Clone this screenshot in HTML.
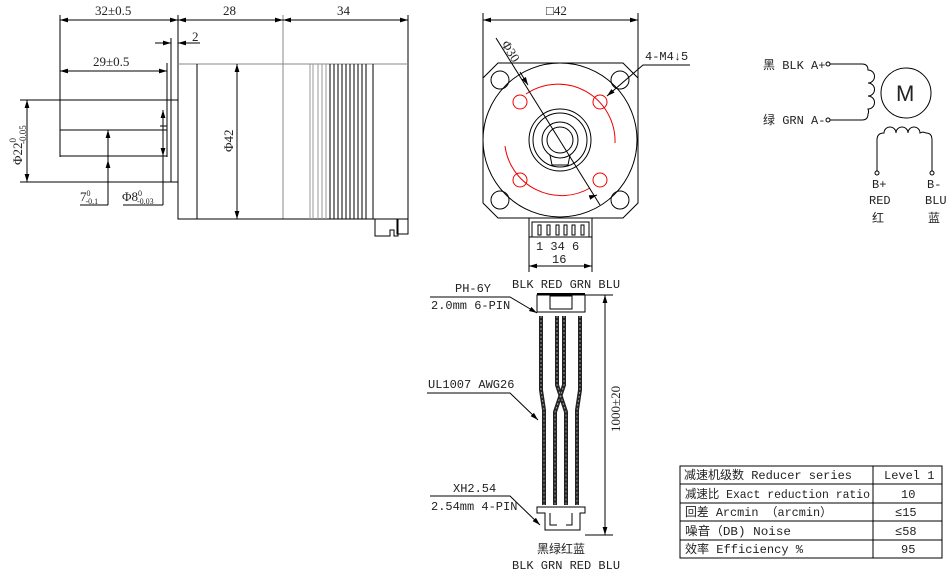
<!DOCTYPE html>
<html><head><meta charset="utf-8"><style>
html,body{margin:0;padding:0;background:#fff}
svg{display:block}
text{font-family:"Liberation Mono","Noto Sans CJK SC",monospace;font-size:12px;fill:#222}
.s{font-family:"Liberation Serif","Noto Serif CJK SC",serif;font-size:13px}
</style></head><body>
<svg width="950" height="577" viewBox="0 0 950 577" xmlns="http://www.w3.org/2000/svg">
<defs>
<marker id="a" viewBox="0 0 10 6" refX="10" refY="3" markerWidth="8" markerHeight="5" orient="auto-start-reverse"><path d="M0,0L10,3L0,6z" fill="#000"/></marker>
</defs>
<g stroke="#000" stroke-width="1" fill="none">
<line x1="60" y1="15" x2="60" y2="157"/>
<line x1="178" y1="15" x2="178" y2="64"/>
<line x1="283" y1="15" x2="283" y2="219" stroke="#888"/>
<line x1="408" y1="15" x2="408" y2="64"/>
<line x1="60" y1="20" x2="178" y2="20" marker-start="url(#a)" marker-end="url(#a)"/>
<line x1="178" y1="20" x2="283" y2="20" marker-start="url(#a)" marker-end="url(#a)"/>
<line x1="283" y1="20" x2="408" y2="20" marker-start="url(#a)" marker-end="url(#a)"/>
<line x1="155" y1="43" x2="171" y2="43" marker-end="url(#a)"/>
<line x1="200" y1="43" x2="178" y2="43" marker-end="url(#a)"/>
<line x1="60" y1="71" x2="167" y2="71" marker-start="url(#a)" marker-end="url(#a)"/>
<line x1="167" y1="63" x2="167" y2="157"/>
<line x1="171" y1="38" x2="171" y2="182"/>
<rect x="178" y="64" width="230" height="155"/>
<line x1="178" y1="64" x2="408" y2="64" stroke="#888"/>
<line x1="197" y1="64" x2="197" y2="219"/>
<g stroke="#999"><line x1="310" y1="64" x2="310" y2="219"/><line x1="313" y1="64" x2="313" y2="219"/><line x1="318" y1="64" x2="318" y2="219"/><line x1="322" y1="64" x2="322" y2="219"/><line x1="326" y1="64" x2="326" y2="219"/></g>
<g><line x1="330" y1="64" x2="330" y2="219"/><line x1="334" y1="64" x2="334" y2="219"/><line x1="338" y1="64" x2="338" y2="219"/><line x1="342" y1="64" x2="342" y2="219"/><line x1="346" y1="64" x2="346" y2="219"/><line x1="350" y1="64" x2="350" y2="219"/><line x1="354" y1="64" x2="354" y2="219"/><line x1="358" y1="64" x2="358" y2="219"/><line x1="362" y1="64" x2="362" y2="219"/><line x1="366" y1="64" x2="366" y2="219"/><line x1="373" y1="64" x2="373" y2="219"/></g>
<line x1="20" y1="100" x2="178" y2="100"/>
<line x1="20" y1="182" x2="178" y2="182"/>
<line x1="27" y1="100" x2="27" y2="182" marker-start="url(#a)" marker-end="url(#a)"/>
<line x1="60" y1="130" x2="167" y2="130"/>
<line x1="60" y1="156" x2="167" y2="156"/>
<line x1="160" y1="126" x2="167" y2="126"/>
<line x1="108" y1="130" x2="108" y2="205" marker-start="url(#a)"/>
<line x1="108" y1="182" x2="108" y2="160" marker-end="url(#a)"/>
<line x1="80" y1="205" x2="108" y2="205"/>
<line x1="163" y1="110" x2="163" y2="205" />
<line x1="163" y1="110" x2="163" y2="126" marker-start="url(#a)"/>
<line x1="163" y1="140" x2="163" y2="156" marker-end="url(#a)"/>
<line x1="123" y1="205" x2="163" y2="205"/>
<line x1="237" y1="64" x2="237" y2="219" marker-start="url(#a)" marker-end="url(#a)"/>
<path d="M375 219V236H390V230H394V236H398V219M397 219V234H408V219"/>
<line x1="483" y1="13" x2="483" y2="80"/>
<line x1="638" y1="13" x2="638" y2="80"/>
<line x1="483" y1="20" x2="638" y2="20" marker-start="url(#a)" marker-end="url(#a)"/>
<path d="M498 63H623L638 78V203L623 218H498L483 203V78Z"/>
<circle cx="560" cy="140" r="77"/>
<circle cx="500" cy="80" r="9"/><circle cx="620" cy="80" r="9"/><circle cx="500" cy="200" r="9"/><circle cx="620" cy="200" r="9"/>
<circle cx="560" cy="140" r="31"/><circle cx="560" cy="140" r="27"/><circle cx="560" cy="140" r="18"/><circle cx="560" cy="140" r="13"/>
<path d="M550 155 L552 165 H568 L570 155"/>
<g stroke="#e00"><circle cx="520" cy="102" r="7"/><circle cx="600" cy="102" r="7"/><circle cx="520" cy="180" r="7"/><circle cx="600" cy="180" r="7"/>
<path d="M526 94 A57 57 0 0 1 615 143"/><path d="M505 146 A57 57 0 0 0 590 188"/></g>
<line x1="496" y1="38" x2="600" y2="205"/>
<line x1="520" y1="72" x2="528" y2="85" marker-end="url(#a)"/>
<line x1="594" y1="196" x2="597" y2="195" marker-end="url(#a)"/>
<polyline points="690,65 643,65 607,96" marker-end="url(#a)"/>
<rect x="529" y="218" width="63" height="19"/>
<rect x="532" y="222" width="57" height="15"/>
<g><rect x="538" y="225" width="3" height="10"/><rect x="547" y="225" width="3" height="10"/><rect x="556" y="225" width="3" height="10"/><rect x="564" y="225" width="3" height="10"/><rect x="572" y="225" width="3" height="10"/><rect x="581" y="225" width="3" height="10"/></g>
<line x1="529" y1="237" x2="529" y2="272"/><line x1="592" y1="237" x2="592" y2="272"/>
<line x1="529" y1="266" x2="592" y2="266" marker-start="url(#a)" marker-end="url(#a)"/>
<line x1="537" y1="294" x2="585" y2="294" stroke-width="2"/>
<path d="M537 295H585V312H537Z"/><rect x="550" y="296" width="22" height="13"/>
<polyline points="430,297 510,297 537,313" marker-end="url(#a)"/>
<line x1="585" y1="295" x2="613" y2="295"/>
<line x1="585" y1="535" x2="613" y2="535"/>
<line x1="605" y1="295" x2="605" y2="535" marker-start="url(#a)" marker-end="url(#a)"/>
<g stroke="#222" stroke-width="4">
<path d="M541 316V390L544 410V505"/>
<path d="M557 316V385L566 412V505"/>
<path d="M564 316V385L555 412V505"/>
<path d="M580 316V390L577 410V505"/>
</g>
<g stroke="#999" stroke-width="1" stroke-dasharray="2 2">
<path d="M541 316V390L544 410V505"/><path d="M557 316V385L566 412V505"/><path d="M564 316V385L555 412V505"/><path d="M580 316V390L577 410V505"/>
</g>
<polyline points="427,393 510,393 538,420" marker-end="url(#a)"/>
<path d="M537 507H585V513H580V530H545V513H537Z" fill="#fff"/>
<path d="M550 513V525H557M566 525H572V513"/>
<polyline points="430,496 510,496 540,525" marker-end="url(#a)"/>
<circle cx="828" cy="64" r="2"/><circle cx="828" cy="120" r="2"/>
<path d="M830 64H862Q868 64 868 70 A6 6 0 0 1 868 83 A6 6 0 0 1 868 96 A6 6 0 0 1 868 109 A6 6 0 0 1 868 114 Q868 120 862 120H830"/>
<circle cx="906" cy="93" r="25"/>
<path d="M877 171V140Q877 133 884 133 A6 6 0 0 1 896 133 A6 6 0 0 1 908 133 A6 6 0 0 1 920 133 A6 6 0 0 1 926 133 Q932 133 932 140V171"/>
<circle cx="877" cy="173" r="2"/><circle cx="932" cy="173" r="2"/>
<rect x="680" y="466" width="262" height="92"/>
<line x1="873" y1="466" x2="873" y2="558"/>
<line x1="680" y1="484" x2="942" y2="484"/><line x1="680" y1="503" x2="942" y2="503"/><line x1="680" y1="521" x2="942" y2="521"/><line x1="680" y1="540" x2="942" y2="540"/>
</g>
<text class="s" x="95" y="15">32±0.5</text>
<text class="s" x="223" y="15">28</text>
<text class="s" x="337" y="15">34</text>
<text class="s" x="192" y="41">2</text>
<text class="s" x="93" y="66">29±0.5</text>
<text class="s" transform="translate(22,165) rotate(-90)">Φ22<tspan font-size="9" dy="-6">0</tspan><tspan font-size="9" dx="-6" dy="10">-0.05</tspan></text>
<text class="s" x="80" y="201">7<tspan font-size="8" dy="-5">0</tspan><tspan font-size="8" dx="-5" dy="8">-0.1</tspan></text>
<text class="s" x="122" y="201">Φ8<tspan font-size="8" dy="-5">0</tspan><tspan font-size="8" dx="-5" dy="8">-0.03</tspan></text>
<text class="s" transform="translate(233,152) rotate(-90)">Φ42</text>
<text class="s" x="546" y="15">□42</text>
<text class="s" transform="translate(501,44) rotate(58)">Φ30</text>
<text x="645" y="60">4-M4↓5</text>
<text x="536" y="250">1 34 6</text>
<text x="552" y="263">16</text>
<text x="512" y="288">BLK RED GRN BLU</text>
<text x="455" y="292">PH-6Y</text>
<text x="431" y="309">2.0mm 6-PIN</text>
<text x="428" y="388">UL1007 AWG26</text>
<text x="453" y="492">XH2.54</text>
<text x="431" y="510">2.54mm 4-PIN</text>
<text class="s" transform="translate(620,432) rotate(-90)">1000±20</text>
<text x="537" y="553">黑绿红蓝</text>
<text x="512" y="569">BLK GRN RED BLU</text>
<text x="763" y="69">黑 BLK A+</text>
<text x="763" y="124">绿 GRN A-</text>
<text x="896" y="101" style="font-family:'Liberation Sans',sans-serif;font-size:22px">M</text>
<text x="872" y="188">B+</text><text x="927" y="188">B-</text>
<text x="869" y="204">RED</text><text x="925" y="204">BLU</text>
<text x="872" y="222">红</text><text x="928" y="222">蓝</text>
<text x="684" y="479" textLength="168" lengthAdjust="spacingAndGlyphs">减速机级数 Reducer series</text>
<text x="685" y="498" textLength="185" lengthAdjust="spacingAndGlyphs">减速比 Exact reduction ratio</text>
<text x="685" y="516" textLength="147" lengthAdjust="spacingAndGlyphs">回差 Arcmin （arcmin）</text>
<text x="685" y="535" textLength="106" lengthAdjust="spacingAndGlyphs">噪音（DB) Noise</text>
<text x="685" y="553" textLength="118" lengthAdjust="spacingAndGlyphs">效率 Efficiency %</text>
<text x="884" y="479">Level 1</text>
<text x="901" y="498">10</text>
<text x="895" y="516">≤15</text>
<text x="895" y="535">≤58</text>
<text x="901" y="553">95</text>
</svg>
</body></html>
